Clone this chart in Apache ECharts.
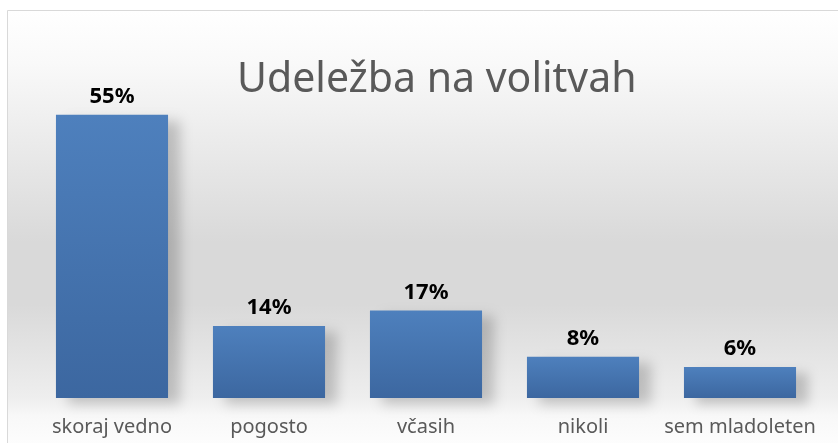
<!DOCTYPE html>
<html>
<head>
<meta charset="utf-8">
<script src="https://cdn.jsdelivr.net/npm/echarts@6/dist/echarts.min.js"></script>
<style>
  html, body { margin: 0; padding: 0; background: #fff; }
  #chart { width: 838px; height: 443px; }
</style>
</head>
<body>
<div id="chart"></div>
<script>
// podatki
var categories = ['skoraj vedno', 'pogosto', 'včasih', 'nikoli', 'sem mladoleten'];
var values = [55, 14, 17, 8, 6];
var chartTitle = 'Udeležba na volitvah';

var dom = echarts.init(document.getElementById('chart'));
var option = {
    animation: false,
    textStyle: { fontFamily: 'Noto Sans' },
    graphic: [{
        type: 'rect',
        z: -10,
        silent: true,
        shape: { x: 7.5, y: 10.5, width: 840, height: 445 },
        style: {
            stroke: '#d9d9d9',
            lineWidth: 1,
            fill: new echarts.graphic.LinearGradient(0, 0, 0, 1, [
                { offset: 0, color: '#ffffff' },
                { offset: 0.12, color: '#f9f9f9' },
                { offset: 0.52, color: '#d9d9d9' },
                { offset: 0.66, color: '#d9d9d9' },
                { offset: 0.87, color: '#eeeeee' },
                { offset: 0.91, color: '#f8f8f8' },
                { offset: 1, color: '#ffffff' }
            ])
        }
    }],
    title: {
        text: chartTitle,
        left: 232,
        top: 55,
        textStyle: {
            fontFamily: 'Noto Sans',
            fontSize: 41,
            fontWeight: 'normal',
            color: '#595959'
        }
    },
    grid: {
        left: 33.5,
        right: 19.5,
        top: 89,
        bottom: 45
    },
    xAxis: {
        type: 'category',
        data: categories,
        axisLine: { show: false },
        axisTick: { show: false },
        axisLabel: {
            color: '#595959',
            fontSize: 20,
            margin: 19,
            interval: 0
        }
    },
    yAxis: {
        type: 'value',
        min: 0,
        max: 60,
        show: false,
        splitLine: { show: false }
    },
    series: [{
        type: 'bar',
        data: values,
        barCategoryGap: '28.6%',
        itemStyle: {
            color: new echarts.graphic.LinearGradient(0, 0, 0, 1, [
                { offset: 0, color: '#4e80bd' },
                { offset: 1, color: '#3c67a0' }
            ]),
            shadowColor: 'rgba(0,0,0,0.2)',
            shadowBlur: 12,
            shadowOffsetX: 12,
            shadowOffsetY: 6
        },
        label: {
            show: true,
            position: 'top',
            distance: 7,
            formatter: '{c}%',
            color: '#000000',
            fontSize: 22,
            fontWeight: 'bold'
        }
    }]
};
dom.setOption(option);
</script>
</body>
</html>
